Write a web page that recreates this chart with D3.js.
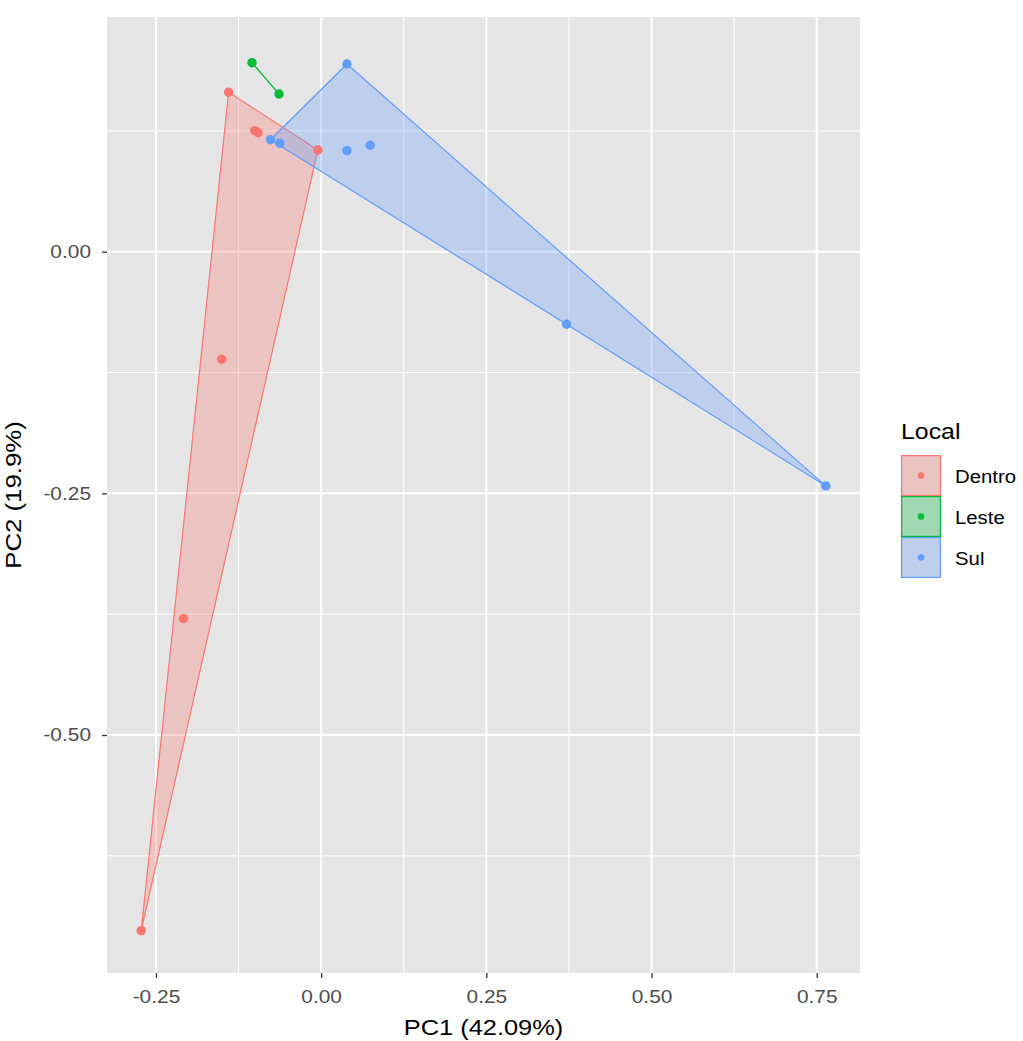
<!doctype html>
<html lang="en">
  <head>
    <meta charset="utf-8" />
    <title>PCA Local</title>
    <style>
      body { margin: 0; background: #ffffff; }
      svg { display: block; font-family: "Liberation Sans", Arial, sans-serif; }
    </style>
  </head>
  <body>
    <svg id="chart" width="1023" height="1041"></svg>
    <script src="https://cdn.jsdelivr.net/npm/d3@7"></script>
    <script>

      // data
      var groups = ["Dentro", "Leste", "Sul"];
      var colours = ["#F8766D", "#00BA38", "#619CFF"];

      var local = ["Dentro", "Dentro", "Dentro", "Dentro", "Dentro", "Dentro", "Dentro",
                   "Leste", "Leste",
                   "Sul", "Sul", "Sul", "Sul", "Sul", "Sul", "Sul"];
      var pc1 = [-0.140, -0.1005, -0.0955, -0.005, -0.1505, -0.2082, -0.2723,
                 -0.1046, -0.0637,
                 0.039, -0.0767, -0.0626, 0.039, 0.0743, 0.3714, 0.7637];
      var pc2 = [0.165, 0.1252, 0.1231, 0.1052, -0.1113, -0.3796, -0.7023,
                 0.1955, 0.1631,
                 0.1941, 0.1158, 0.1121, 0.1045, 0.1101, -0.0751, -0.2423];

      var xTicks = [-0.25, 0, 0.25, 0.5, 0.75];
      var xMinor = [-0.125, 0.125, 0.375, 0.625];
      var yTicks = [-0.5, -0.25, 0];
      var yMinor = [-0.625, -0.375, -0.125, 0.125];

      var xTitle = "PC1 (42.09%)";
      var yTitle = "PC2 (19.9%)";
      var legendTitle = "Local";

      // panel position
      var panel = {left: 107, top: 17, right: 860, bottom: 973};
      var stretch = 1.13; // text in the picture is drawn wider than plain Arial

      function expand(vals) {
          var ext = d3.extent(vals);
          var pad = (ext[1] - ext[0]) * 0.05;
          return [ext[0] - pad, ext[1] + pad];
      }

      var x = d3.scaleLinear().domain(expand(pc1)).range([panel.left, panel.right]);
      var y = d3.scaleLinear().domain(expand(pc2)).range([974, 19.3]);
      var colour = d3.scaleOrdinal().domain(groups).range(colours);
      var fmt = function (d) { return d3.format(".2f")(d).replace("\u2212", "-"); };

      var svg = d3.select("#chart");

      svg.append("rect")
          .attr("x", panel.left)
          .attr("y", panel.top)
          .attr("width", panel.right - panel.left)
          .attr("height", panel.bottom - panel.top)
          .attr("fill", "#E5E5E5");

      var grid = svg.append("g");
      grid.selectAll(".xminor").data(xMinor).enter().append("line")
          .attr("x1", d => x(d)).attr("x2", d => x(d))
          .attr("y1", panel.top).attr("y2", panel.bottom)
          .attr("stroke", "#fff").attr("stroke-width", 1);
      grid.selectAll(".yminor").data(yMinor).enter().append("line")
          .attr("x1", panel.left).attr("x2", panel.right)
          .attr("y1", d => y(d)).attr("y2", d => y(d))
          .attr("stroke", "#fff").attr("stroke-width", 1);
      grid.selectAll(".xmajor").data(xTicks).enter().append("line")
          .attr("x1", d => x(d)).attr("x2", d => x(d))
          .attr("y1", panel.top).attr("y2", panel.bottom)
          .attr("stroke", "#fff").attr("stroke-width", 2);
      grid.selectAll(".ymajor").data(yTicks).enter().append("line")
          .attr("x1", panel.left).attr("x2", panel.right)
          .attr("y1", d => y(d)).attr("y2", d => y(d))
          .attr("stroke", "#fff").attr("stroke-width", 2);

      // hulls
      var points = pc1.map(function (v, i) { return {x: v, y: pc2[i], g: local[i]}; });
      var hullLayer = svg.append("g");
      groups.forEach(function (g) {
          var pts = points.filter(p => p.g == g).map(p => [x(p.x), y(p.y)]);
          var hull = pts.length >= 3 ? d3.polygonHull(pts) : pts;
          hullLayer.append("path")
              .attr("d", "M" + hull.join("L") + "Z")
              .attr("fill", colour(g))
              .attr("fill-opacity", 0.3)
              .attr("stroke", colour(g))
              .attr("stroke-width", 1.2)
              .attr("stroke-linejoin", "round");
      });

      svg.append("g").selectAll("circle").data(points).enter().append("circle")
          .attr("cx", d => x(d.x))
          .attr("cy", d => y(d.y))
          .attr("r", 4.7)
          .attr("fill", d => colour(d.g));

      // axes
      var xAxis = svg.append("g")
          .attr("transform", "translate(0," + panel.bottom + ")")
          .call(d3.axisBottom(x).tickValues(xTicks).tickFormat(fmt).tickSize(5).tickPadding(12));
      var yAxis = svg.append("g")
          .attr("transform", "translate(" + panel.left + ",0)")
          .call(d3.axisLeft(y).tickValues(yTicks).tickFormat(fmt).tickSize(5).tickPadding(11));

      [xAxis, yAxis].forEach(function (ax) {
          ax.select(".domain").remove();
          ax.selectAll(".tick line").attr("stroke", "#333333").attr("stroke-width", 1.3);
          ax.selectAll(".tick text")
              .attr("fill", "#4D4D4D")
              .style("font-size", "18.5px")
              .style("font-family", "'Liberation Sans', Arial, sans-serif");
      });
      xAxis.selectAll(".tick text").attr("transform", "scale(" + stretch + ",1)");
      yAxis.selectAll(".tick text")
          .attr("x", -16 / stretch)
          .attr("transform", "scale(" + stretch + ",1)");

      // axis titles
      svg.append("text")
          .attr("transform", "translate(" + ((panel.left + panel.right) / 2) + ",1035) scale(" + stretch + ",1)")
          .attr("text-anchor", "middle")
          .style("font-size", "22.5px")
          .attr("fill", "#000")
          .text(xTitle);
      svg.append("text")
          .attr("transform", "translate(21," + ((panel.top + panel.bottom) / 2) + ") rotate(-90) scale(1.2,1)")
          .attr("text-anchor", "middle")
          .style("font-size", "21.5px")
          .attr("fill", "#000")
          .text(yTitle);

      // legend
      var legend = svg.append("g").attr("transform", "translate(901,0)");
      legend.append("text")
          .attr("transform", "translate(0,439) scale(" + stretch + ",1)")
          .style("font-size", "22px")
          .attr("fill", "#000")
          .text(legendTitle);

      var keyTop = 455, keyH = 41, keyW = 40;
      groups.forEach(function (g, i) {
          var ky = keyTop + i * keyH;
          legend.append("rect")
              .attr("x", 0.6).attr("y", ky + 0.6)
              .attr("width", keyW - 1.2).attr("height", keyH - 1.2)
              .attr("fill", "#E5E5E5");
          legend.append("rect")
              .attr("x", 0.6).attr("y", ky + 0.6)
              .attr("width", keyW - 1.2).attr("height", keyH - 1.2)
              .attr("fill", colour(g)).attr("fill-opacity", 0.3)
              .attr("stroke", colour(g)).attr("stroke-width", 1.2);
          legend.append("circle")
              .attr("cx", keyW / 2).attr("cy", ky + keyH / 2)
              .attr("r", 3.3)
              .attr("fill", colour(g));
          legend.append("text")
              .attr("transform", "translate(54," + (ky + keyH / 2 + 7) + ") scale(1.1,1)")
              .style("font-size", "18.5px")
              .attr("fill", "#000")
              .text(g);
      });

    </script>
  </body>
</html>
